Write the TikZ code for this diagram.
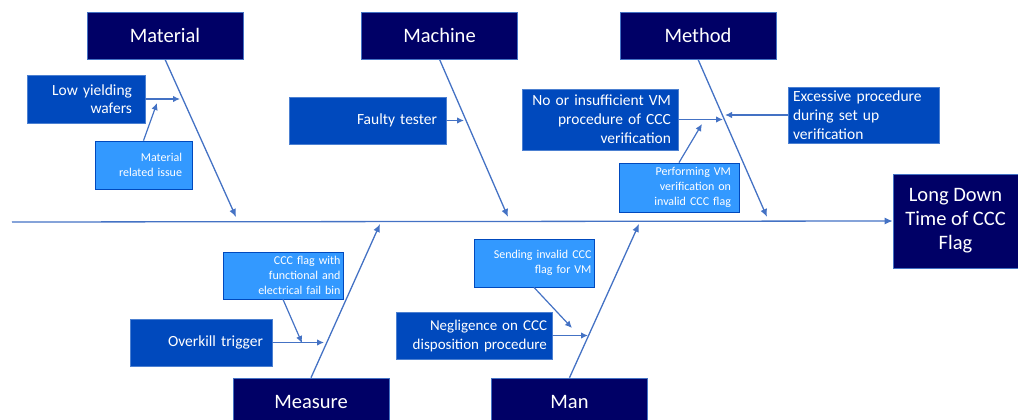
\documentclass[tikz,border=0pt]{standalone}
\usepackage{fontspec}
\setmainfont{Carlito}
\usetikzlibrary{arrows.meta}
\definecolor{navy}{HTML}{000066}
\definecolor{midblue}{HTML}{0049BD}
\definecolor{lightblue}{HTML}{3399FF}
\definecolor{linecol}{HTML}{4472C4}
\tikzset{
  head/.style={draw=linecol, line width=0.6pt, fill=navy, text=white, font=\fontsize{20.5}{24}\selectfont, minimum width=156pt, minimum height=47pt, inner sep=0pt},
  cause/.style={fill=midblue, draw=midblue!70!white, line width=0.4pt, text=white, font=\fontsize{15.5}{18.5}\selectfont, align=right, inner sep=0pt},
  sub/.style={fill=lightblue, draw=midblue, line width=0.8pt, text=white, font=\fontsize{12}{15.3}\selectfont, align=right, inner sep=0pt},
  conn/.style={draw=linecol, line width=1.3pt, -{Latex[length=8pt,width=7pt]}},
  sconn/.style={draw=linecol, line width=1.2pt, -{Latex[length=7pt,width=6.5pt]}},
}
\begin{document}
\begin{tikzpicture}[x=1pt,y=-1pt]
\useasboundingbox (0,0) rectangle (1018,420);
% heads
\node[head] (material) at (165,35.5) {Material};
\node[head] (machine) at (439.5,35.5) {Machine};
\node[head] (method) at (698,35.5) {Method};
\node[head] (measure) at (311,401.5) {Measure};
\node[head] (man) at (569.5,401.5) {Man};
\node[head, minimum width=125pt, minimum height=94pt, align=center, font=\fontsize{20.5}{24}\selectfont] (effect) at (955.5,221) {Long Down\\Time of CCC\\Flag};
% spine
\coordinate (spL) at (12,222);
\draw[conn] (spL) -- (effect.west);
% branch ends
\coordinate (bmat) at (236,217);
\coordinate (bmac) at (508,217);
\coordinate (bmet) at (767,217);
\coordinate (bmea) at (380,224);
\coordinate (bman) at (639,224);
\draw[conn] (material.south) -- (bmat);
\draw[conn] (machine.south) -- (bmac);
\draw[conn] (method.south) -- (bmet);
\draw[conn] (measure.north) -- (bmea);
\draw[conn] (man.north) -- (bman);
% causes
\node[cause, minimum width=118pt, minimum height=48pt, text width=92pt] (lyw) at (86,99) {Low yielding\\wafers};
\node[sub, minimum width=97pt, minimum height=48pt, text width=77pt] (mri) at (143.5,165) {Material\\related issue};
\node[cause, minimum width=157pt, minimum height=47pt, text width=139pt] (ft) at (367.5,120.5) {Faulty tester};
\node[cause, minimum width=156pt, minimum height=61pt, text width=142pt, font=\fontsize{15.5}{19}\selectfont] (nvm) at (600,119.5) {No or insufficient VM\\procedure of CCC\\verification};
\node[cause, minimum width=151pt, minimum height=56pt, text width=141pt, align=left, font=\fontsize{15.5}{19}\selectfont] (exc) at (863.5,115) {Excessive procedure\\during set up\\verification};
\node[sub, minimum width=120pt, minimum height=49pt, text width=104pt] (pvm) at (679,187.5) {Performing VM\\verification on\\invalid CCC flag};
\node[sub, minimum width=120pt, minimum height=47pt, text width=115pt] (cff) at (283,275.5) {CCC flag with\\functional and\\electrical fail bin};
\node[cause, minimum width=142pt, minimum height=47pt, text width=124pt] (ovk) at (201,342.5) {Overkill trigger};
\node[sub, minimum width=120pt, minimum height=48pt, text width=115pt] (sic) at (534,263) {Sending invalid CCC\\flag for VM};
\node[cause, minimum width=156pt, minimum height=47pt, text width=146pt, font=\fontsize{15}{19}\selectfont] (neg) at (474,335.5) {Negligence on CCC\\disposition procedure};
% cause arrow ends
\coordinate (clyw) at (180,99);
\coordinate (cmri) at (157,103);
\coordinate (cft) at (464,120.5);
\coordinate (cnvm) at (723,119.5);
\coordinate (cexc) at (725,115);
\coordinate (cpvm) at (702,124);
\coordinate (ccff) at (302,343);
\coordinate (covk) at (324,342.5);
\coordinate (csic) at (572,328);
\coordinate (cneg) at (588,335.5);
\draw[sconn] (lyw.east) -- (clyw);
\draw[sconn] (mri.north) -- (cmri);
\draw[sconn] (ft.east) -- (cft);
\draw[sconn] (nvm.east) -- (cnvm);
\draw[sconn] (exc.west) -- (cexc);
\draw[sconn] (pvm.north) -- (cpvm);
\draw[sconn] (cff.south) -- (ccff);
\draw[sconn] (ovk.east) -- (covk);
\draw[sconn] (sic.south) -- (csic);
\draw[sconn] (neg.east) -- (cneg);
\end{tikzpicture}
\end{document}
